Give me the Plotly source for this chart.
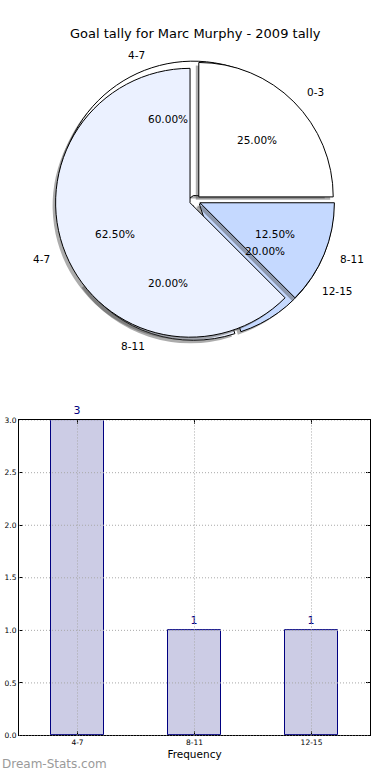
import math
import plotly.graph_objects as go

# ---------------- data ----------------
title_text = "Goal tally for Marc Murphy - 2009 tally"

pie1_labels = ["0-3", "4-7", "8-11"]
pie1_values = [25.0, 62.5, 12.5]

pie2_labels = ["4-7", "8-11", "12-15"]
pie2_values = [60.0, 20.0, 20.0]

bar_categories = ["4-7", "8-11", "12-15"]
bar_values = [3, 1, 1]
y_tick_values = [0.0, 0.5, 1.0, 1.5, 2.0, 2.5, 3.0]

# ---------------- style / layout constants ----------------
W, H = 390, 780
CX, CY = 195, 199          # pie centre in px (from top-left)
R = 136                    # pie radius in px
PULL = 0.04
slice_colors = ["#FFFFFF", "#EBF1FF", "#C5D9FF"]
shadow_color = "rgba(70,70,70,0.45)"
FONT = "DejaVu Sans"
GRID_COLOR = "#a8a8a8"


def pie_domain(dx=0.0, dy=0.0):
    half = R * (1 + PULL)
    return dict(
        x=[(CX + dx - half) / W, (CX + dx + half) / W],
        y=[1 - (CY + dy + half) / H, 1 - (CY + dy - half) / H],
    )


def pie_trace(labels, values, colors, domain, line_width=1.0):
    # first wedge starts at 3 o'clock and runs counter-clockwise (matplotlib style)
    first_angle = 360.0 * values[0] / float(sum(values))
    return go.Pie(
        labels=labels,
        values=values,
        sort=False,
        direction="counterclockwise",
        rotation=90 - first_angle,
        pull=[PULL] * len(values),
        marker=dict(colors=colors, line=dict(color="black", width=line_width)),
        textinfo="none",
        hoverinfo="label+percent",
        showlegend=False,
        domain=domain,
    )


fig = go.Figure()
# pie 2 (underneath) with its shadow
fig.add_trace(pie_trace(pie2_labels, pie2_values, [shadow_color] * 3, pie_domain(-3, 3), 0))
fig.add_trace(pie_trace(pie2_labels, pie2_values, slice_colors, pie_domain()))
# pie 1 (on top) with its shadow
fig.add_trace(pie_trace(pie1_labels, pie1_values, [shadow_color] * 3, pie_domain(-3, 3), 0))
fig.add_trace(pie_trace(pie1_labels, pie1_values, slice_colors, pie_domain()))

annotations = []


def pie_texts(labels, values):
    total = float(sum(values))
    cum = 0.0
    for lab, v in zip(labels, values):
        theta = 2 * math.pi * (cum + v / 2.0) / total
        cum += v
        c, s = math.cos(theta), math.sin(theta)
        ox, oy = PULL * R * c, PULL * R * s
        lx = CX + ox + 1.1 * R * c
        ly = CY - (oy + 1.1 * R * s)
        annotations.append(dict(
            text=lab, x=lx / W, y=1 - ly / H, xref="paper", yref="paper",
            xanchor="left" if c > 0 else "right", yanchor="middle",
            showarrow=False, font=dict(family=FONT, size=10.5, color="black"),
        ))
        px = CX + ox + 0.6 * R * c
        py = CY - (oy + 0.6 * R * s)
        annotations.append(dict(
            text="%.2f%%" % (100.0 * v / total), x=px / W, y=1 - py / H,
            xref="paper", yref="paper", xanchor="center", yanchor="middle",
            showarrow=False, font=dict(family=FONT, size=10.5, color="black"),
        ))


pie_texts(pie2_labels, pie2_values)
pie_texts(pie1_labels, pie1_values)

annotations.append(dict(
    text=title_text, x=0.5, y=1 - 30 / H, xref="paper", yref="paper",
    xanchor="center", yanchor="middle", showarrow=False,
    font=dict(family=FONT, size=13, color="black"),
))

# ---------------- bar chart ----------------
fig.add_trace(go.Bar(
    x=bar_categories,
    y=bar_values,
    width=0.45,
    marker=dict(color="#CCCCE5", line=dict(color="#000080", width=1)),
    text=[str(v) for v in bar_values],
    textposition="outside",
    textfont=dict(family=FONT, size=11, color="#000080"),
    cliponaxis=False,
    showlegend=False,
    xaxis="x", yaxis="y",
))

annotations.append(dict(
    text="Dream-Stats.com", x=0, y=2 / H, xref="paper", yref="paper",
    xanchor="left", yanchor="bottom", showarrow=False,
    font=dict(family=FONT, size=12, color="#9a9a9a"),
))

# dotted grid drawn above the bars (as in the reference)
shapes = []
for yv in y_tick_values:
    shapes.append(dict(type="line", xref="x domain", yref="y", x0=0, x1=1, y0=yv, y1=yv,
                       line=dict(color=GRID_COLOR, width=1, dash="1px,2px"), layer="above"))
for i, _cat in enumerate(bar_categories):
    shapes.append(dict(type="line", xref="x", yref="y domain", x0=i, x1=i, y0=0, y1=1,
                       line=dict(color=GRID_COLOR, width=1, dash="1px,2px"), layer="above"))

fig.update_layout(
    width=W, height=H,
    margin=dict(l=0, r=0, t=0, b=0),
    paper_bgcolor="white", plot_bgcolor="white",
    font=dict(family=FONT, color="black"),
    annotations=annotations,
    shapes=shapes,
    bargap=0,
    xaxis=dict(
        domain=[19 / W, 370 / W], anchor="y", type="category",
        range=[-0.5, 2.5], showline=True, linecolor="black", linewidth=1, mirror="allticks",
        ticks="inside", ticklen=4, tickcolor="black", tickfont=dict(size=7.5),
        title=dict(text="Frequency", font=dict(size=10.5), standoff=4),
        layer="above traces", zeroline=False, showgrid=False,
    ),
    yaxis=dict(
        domain=[1 - 740 / H, 1 - 421 / H], anchor="x",
        range=[0, 3], tickvals=y_tick_values, ticktext=["%.1f" % v for v in y_tick_values],
        showline=True, linecolor="black", linewidth=1, mirror="allticks",
        ticks="inside", ticklen=4, tickcolor="black", tickfont=dict(size=7.5),
        layer="above traces", zeroline=False, showgrid=False,
    ),
)

fig.write_html(
    "out.html",
    config={"displayModeBar": False},
    post_script="document.body.style.margin='0';document.body.style.overflow='hidden';",
)
